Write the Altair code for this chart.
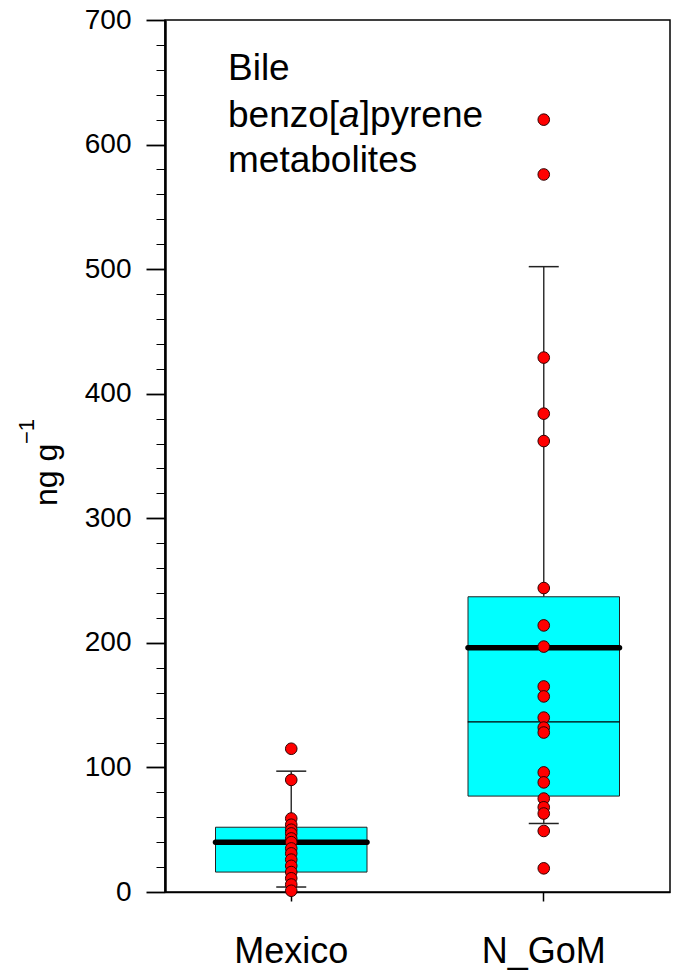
import altair as alt
import pandas as pd

# ---- data ----
groups = ["Mexico", "N_GoM"]
q1 = [16, 77]
q3 = [52, 237]
median = [39, 136.5]
mean = [40, 196]
whisker_low = [4, 55]
whisker_high = [97, 502]

mexico_values = [115, 90, 59, 54, 50, 47, 43, 40, 35, 31, 26, 21, 16, 11, 6, 1]
ngom_values = [620, 576, 429, 384, 362, 244, 214, 197, 165, 157, 140, 132, 128,
               96, 88, 75, 68, 63, 49, 19]

major_ticks = [0, 100, 200, 300, 400, 500, 600, 700]
minor_ticks = list(range(0, 701, 20))

stats = pd.DataFrame({"group": groups, "q1": q1, "q3": q3, "median": median,
                      "mean": mean, "lo": whisker_low, "hi": whisker_high})
pts = pd.DataFrame({"group": ["Mexico"] * len(mexico_values) + ["N_GoM"] * len(ngom_values),
                    "value": mexico_values + ngom_values})

FONT = "Liberation Sans"
yscale = alt.Scale(domain=[0, 700], nice=False, zero=True)
X = alt.X("group:N", sort=groups,
          scale=alt.Scale(domain=groups, paddingInner=0, paddingOuter=0),
          axis=alt.Axis(title=None, labelAngle=0, labelFontSize=36, labelFont=FONT,
                        labelColor="black", tickSize=9, tickColor="black", tickWidth=1.5,
                        domainColor="black", domainWidth=1.5, labelPadding=33,
                        labelBaseline="top"))

major_axis = alt.Axis(values=major_ticks, title=None, orient="left", tickSize=19,
                      tickWidth=1.8, tickColor="black", domainColor="black",
                      domainWidth=2.5, labelFontSize=28, labelFont=FONT,
                      labelColor="black", labelPadding=15, grid=False, format="d")
minor_axis = alt.Axis(values=minor_ticks, title=None, orient="left", tickSize=9,
                      tickWidth=1, tickColor="black", labels=False, domain=False,
                      grid=False)

base = alt.Chart(stats)

whisk_up = base.mark_rule(color="#333333", strokeWidth=1.5).encode(
    x=X, y=alt.Y("q3:Q", scale=yscale, axis=None), y2="hi:Q")
whisk_dn = base.mark_rule(color="#333333", strokeWidth=1.5).encode(
    x=X, y=alt.Y("lo:Q", scale=yscale, axis=None), y2="q1:Q")
box = base.mark_bar(fill="#00FFFF", stroke="#222222", strokeWidth=1,
                    width=alt.RelativeBandSize(0.6)).encode(
    x=X, y=alt.Y("q1:Q", scale=yscale, axis=major_axis), y2="q3:Q")
med = base.mark_tick(color="black", size=152, thickness=1.2, opacity=1).encode(
    x=X, y=alt.Y("median:Q", scale=yscale, axis=None))
mn = base.mark_tick(color="black", size=157, thickness=5.5, cornerRadius=2.5,
                    opacity=1).encode(
    x=X, y=alt.Y("mean:Q", scale=yscale, axis=None))
cap_hi = base.mark_tick(color="#222222", size=30, thickness=1.5, opacity=1).encode(
    x=X, y=alt.Y("hi:Q", scale=yscale, axis=None))
cap_lo = base.mark_tick(color="#222222", size=30, thickness=1.5, opacity=1).encode(
    x=X, y=alt.Y("lo:Q", scale=yscale, axis=None))
dots = alt.Chart(pts).mark_circle(size=135, fill="#FF0000", stroke="#300000",
                                  strokeWidth=1, opacity=1).encode(
    x=X, y=alt.Y("value:Q", scale=yscale, axis=None))
minor = alt.Chart(pts).mark_point(opacity=0).encode(
    x=X, y=alt.Y("value:Q", scale=yscale, axis=minor_axis))

one = alt.Data(values=[{}])
TS = 37
def txt(s, x, y, **kw):
    return alt.Chart(one).mark_text(text=s, font=FONT, fontSize=kw.pop("fontSize", TS),
                                    color="black", align="left", baseline="alphabetic",
                                    **kw).encode(x=alt.value(x), y=alt.value(y))

w_benzo = 3.002 * TS
w_a = 0.556 * TS
t1 = txt("Bile", 63, 60)
t2 = txt("benzo[", 63, 107)
t3 = txt("a", 63 + w_benzo, 107, fontStyle="italic")
t4 = txt("]pyrene", 63 + w_benzo + w_a, 107)
t5 = txt("metabolites", 63, 152)

yt1 = txt("ng g", -108, 486, fontSize=32, angle=270)
yt2 = txt("\u22121", -131, 424, fontSize=22, angle=270)

chart = alt.layer(
    minor, whisk_up, whisk_dn, box, med, mn, cap_hi, cap_lo, dots,
    t1, t2, t3, t4, t5, yt1, yt2
).resolve_axis(y="independent").properties(
    width=505, height=872,
    autosize=alt.AutoSizeParams(type="none"),
    padding={"left": 165, "top": 20, "right": 3, "bottom": 80},
    background="white",
).configure_view(stroke="black", strokeWidth=1.5)

chart.save("out.html", embed_options={"renderer": "svg", "actions": False})
